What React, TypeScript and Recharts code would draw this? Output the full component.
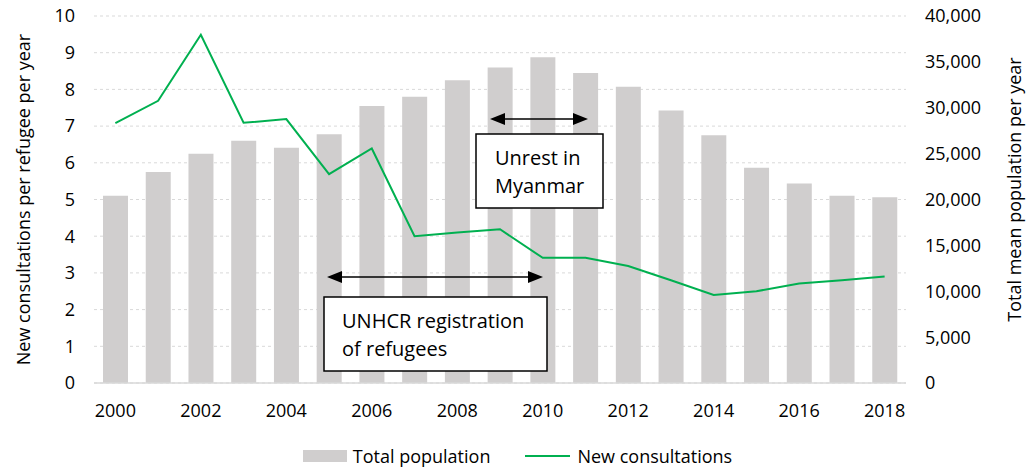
import { Bar, CartesianGrid, ComposedChart, Legend, Line, XAxis, YAxis } from "recharts";

const years = ["2000", "2001", "2002", "2003", "2004", "2005", "2006", "2007", "2008", "2009", "2010", "2011", "2012", "2013", "2014", "2015", "2016", "2017", "2018"];
const population = [20400, 23000, 25000, 26400, 25650, 27100, 30200, 31200, 33000, 34400, 35500, 33800, 32300, 29700, 27000, 23450, 21750, 20400, 20250];
const consultations = [7.08, 7.69, 9.49, 7.09, 7.19, 5.69, 6.39, 4.0, 4.1, 4.19, 3.41, 3.41, 3.19, 2.8, 2.4, 2.5, 2.71, 2.8, 2.9];
const leftTicks = [0, 1, 2, 3, 4, 5, 6, 7, 8, 9, 10];
const rightTicks = [0, 5000, 10000, 15000, 20000, 25000, 30000, 35000, 40000];

const data = years.map((year, i) => ({ year, population: population[i], consultations: consultations[i] }));

const FONT = "'Open Sans', sans-serif";
const GREY = "#d0cece";
const GREEN = "#00b050";
const tickStyle = { fontSize: 18, fill: "#000", fontFamily: FONT };

function ChartLegend() {
  return (
    <div
      style={{
        height: 45,
        boxSizing: "border-box",
        paddingTop: 20,
        display: "flex",
        justifyContent: "center",
        alignItems: "center",
        fontFamily: FONT,
        fontSize: 18,
        color: "#000",
      }}
    >
      <span style={{ display: "inline-block", width: 44, height: 12, background: GREY, marginRight: 6 }} />
      <span style={{ marginRight: 35 }}>Total population</span>
      <span style={{ display: "inline-block", width: 45, height: 2, background: GREEN, marginRight: 7 }} />
      <span>New consultations</span>
    </div>
  );
}

// arrows + note boxes sit on top of the plot
function Annotations() {
  const head = (x: number, y: number, dir: number) =>
    `${x},${y} ${x - dir * 15},${y - 6} ${x - dir * 15},${y + 6}`;
  const textStyle = { fontFamily: FONT, fontSize: 20, fill: "#000" };
  return (
    <svg width={1035} height={468} style={{ position: "absolute", left: 0, top: 0, pointerEvents: "none" }}>
      <line x1={500} y1={119} x2={578} y2={119} stroke="#000" strokeWidth={1.5} />
      <polygon points={head(490, 119, -1)} fill="#000" />
      <polygon points={head(588, 119, 1)} fill="#000" />
      <rect x={476} y={134} width={127} height={74} fill="#fff" stroke="#000" strokeWidth={1.5} />
      <text x={495} y={165} style={textStyle}>Unrest in</text>
      <text x={495} y={193} style={textStyle}>Myanmar</text>

      <line x1={337} y1={277} x2={533} y2={277} stroke="#000" strokeWidth={1.5} />
      <polygon points={head(327, 277, -1)} fill="#000" />
      <polygon points={head(543, 277, 1)} fill="#000" />
      <rect x={324} y={297} width={223} height={74} fill="#fff" stroke="#000" strokeWidth={1.5} />
      <text x={342} y={328} style={textStyle}>UNHCR registration</text>
      <text x={342} y={356} style={textStyle}>of refugees</text>
    </svg>
  );
}

export default function App() {
  return (
    <div style={{ position: "absolute", left: 0, top: 0, width: 1035, height: 468, background: "#fff" }}>
      <ComposedChart width={1035} height={468} data={data} margin={{ top: 16, right: 0, bottom: 0, left: 0 }}>
        <CartesianGrid yAxisId="left" vertical={false} stroke="#d9d9d9" strokeDasharray="3 3" />
        <XAxis
          dataKey="year"
          interval={1}
          height={40}
          tickSize={0}
          tickMargin={21}
          tickLine={false}
          axisLine={{ stroke: "#d9d9d9", strokeWidth: 1.5 }}
          tick={tickStyle}
        />
        <YAxis
          yAxisId="left"
          domain={[0, 10]}
          ticks={leftTicks}
          width={94}
          tickSize={0}
          tickMargin={19}
          axisLine={false}
          tickLine={false}
          tick={tickStyle}
          label={{
            value: "New consultations per refugee per year",
            angle: -90,
            position: "center",
            dx: -23,
            style: { fontSize: 18, fill: "#000", fontFamily: FONT },
          }}
        />
        <YAxis
          yAxisId="right"
          orientation="right"
          domain={[0, 40000]}
          ticks={rightTicks}
          width={129}
          tickSize={0}
          tickMargin={19}
          axisLine={false}
          tickLine={false}
          tick={tickStyle}
          tickFormatter={(v) => Number(v).toLocaleString("en-US")}
          label={{
            value: "Total mean population per year",
            angle: -90,
            position: "center",
            dx: 44,
            dy: -10,
            style: { fontSize: 18, fill: "#000", fontFamily: FONT },
          }}
        />
        <Legend verticalAlign="bottom" content={() => <ChartLegend />} />
        <Bar yAxisId="right" dataKey="population" name="Total population" fill={GREY} barSize={25} isAnimationActive={false} />
        <Line
          yAxisId="left"
          type="linear"
          dataKey="consultations"
          name="New consultations"
          stroke={GREEN}
          strokeWidth={2}
          dot={false}
          activeDot={false}
          isAnimationActive={false}
        />
      </ComposedChart>
      <Annotations />
    </div>
  );
}
